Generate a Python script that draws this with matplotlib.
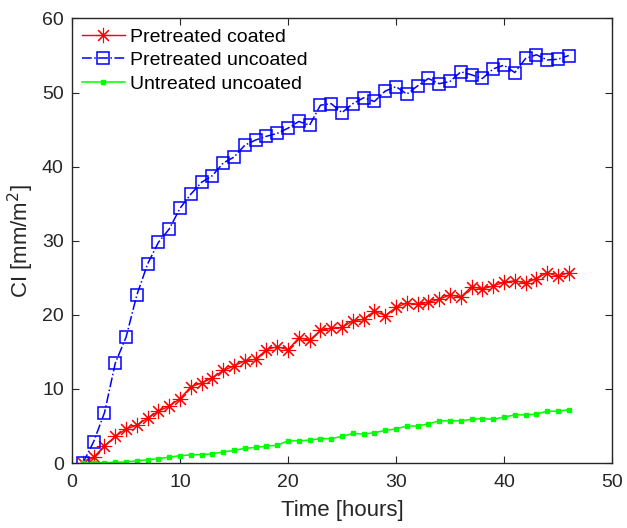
import matplotlib
matplotlib.use('Agg')
import matplotlib.pyplot as plt
import numpy as np

plt.rcParams['font.family'] = ['Liberation Sans', 'DejaVu Sans']

hours = list(range(1, 47))

pretreated_coated = [0, 0.8, 2.3, 3.6, 4.6, 5.1, 6.1, 7.0, 7.7, 8.7,
                     10.3, 10.8, 11.5, 12.5, 13.1, 13.8, 14.0, 15.3, 15.7, 15.3,
                     16.9, 16.6, 17.9, 18.2, 18.3, 19.2, 19.4, 20.5, 19.9, 21.0,
                     21.6, 21.4, 21.7, 22.1, 22.7, 22.4, 23.8, 23.5, 23.9, 24.4,
                     24.6, 24.3, 24.9, 25.7, 25.2, 25.7]

pretreated_uncoated = [0, 2.9, 6.8, 13.5, 17.0, 22.7, 26.9, 29.8, 31.6, 34.4,
                       36.3, 37.9, 38.8, 40.5, 41.3, 42.9, 43.6, 44.1, 44.5, 45.2,
                       46.1, 45.6, 48.3, 48.5, 47.3, 48.5, 49.3, 48.8, 50.2, 50.8,
                       49.8, 50.9, 51.9, 51.2, 51.5, 52.8, 52.4, 51.9, 53.2, 53.7,
                       52.7, 54.6, 55.1, 54.4, 54.5, 55.0]

untreated_uncoated = [0, 0.02, 0.05, 0.1, 0.15, 0.3, 0.45, 0.6, 0.8, 1.0,
                      1.1, 1.15, 1.25, 1.5, 1.7, 2.0, 2.1, 2.3, 2.4, 3.0,
                      3.0, 3.1, 3.3, 3.3, 3.6, 4.0, 3.9, 4.1, 4.4, 4.6,
                      5.0, 5.0, 5.3, 5.7, 5.7, 5.7, 5.9, 6.0, 5.9, 6.2,
                      6.5, 6.5, 6.6, 7.0, 7.0, 7.2]

fig = plt.figure(figsize=(6.27, 5.28), dpi=100)
ax = fig.add_axes([0.115, 0.123, 0.861, 0.842])

ax.plot(hours, pretreated_coated, color='red', linestyle='-', linewidth=1.0,
        marker=(8, 2, 0), markersize=11, markeredgewidth=0.8,
        label='Pretreated coated')
ax.plot(hours, pretreated_uncoated, color='blue', linestyle='-.', linewidth=1.1,
        marker='s', markersize=9, markerfacecolor='none', markeredgewidth=1.1,
        label='Pretreated uncoated')
ax.plot(hours, untreated_uncoated, color='#00ff00', linestyle='-', linewidth=1.1,
        marker='s', markersize=3.5, label='Untreated uncoated')

ax.set_xlim(0, 50)
ax.set_ylim(0, 60)
ax.set_xticks(np.arange(0, 51, 10))
ax.set_yticks(np.arange(0, 61, 10))
ax.tick_params(direction='in', top=True, right=True, labelsize=14,
               color='#262626', labelcolor='#262626', length=5)
ax.tick_params(axis='x', pad=8)
ax.tick_params(axis='y', pad=6)
for s in ax.spines.values():
    s.set_color('#262626')
    s.set_linewidth(1.0)

ax.set_xlabel('Time [hours]', fontsize=16, color='#262626', labelpad=6)
ax.set_ylabel('CI [mm/m$^2$]', fontsize=16, color='#262626')

ax.legend(loc='upper left', frameon=False, fontsize=14, handlelength=2.2,
          borderaxespad=0.1, labelspacing=0.3, handletextpad=0.3)

fig.savefig('out.png', dpi=100)
